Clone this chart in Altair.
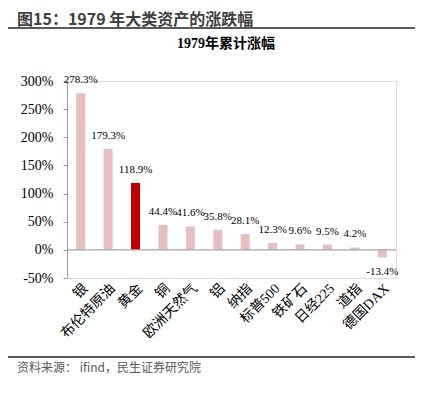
import altair as alt
import pandas as pd

categories = ["银", "布伦特原油", "黄金", "铜", "欧洲天然气", "铝", "纳指", "标普500", "铁矿石", "日经225", "道指", "德国DAX"]
values = [278.3, 179.3, 118.9, 44.4, 41.6, 35.8, 28.1, 12.3, 9.6, 9.5, 4.2, -13.4]
y_ticks = [-50, 0, 50, 100, 150, 200, 250, 300]
header_text = "图15：1979 年大类资产的涨跌幅"
chart_title = "1979年累计涨幅"
source_text = "资料来源：  ifind，民生证券研究院"
highlight = "黄金"

df = pd.DataFrame({"cat": categories, "val": values})
df["lab"] = [f"{v:.1f}%" for v in values]

SERIF = "Liberation Serif, Noto Sans CJK SC"
SANS = "Noto Sans CJK SC"
W, H = 329, 197

xaxis = alt.Axis(labelAngle=-45, domain=False, ticks=False, labelPadding=3, grid=False,
                 labelFont=SERIF, labelFontSize=14, labelColor="#000000")
yaxis = alt.Axis(values=y_ticks, labelExpr="datum.value + '%'", grid=False,
                 domain=True, domainColor="#999999", domainWidth=1,
                 tickColor="#999999", tickSize=4, labelOverlap=False,
                 labelPadding=10, labelFont=SERIF, labelFontSize=14,
                 labelColor="#000000")
xscale = alt.Scale(paddingInner=0.67, paddingOuter=0.335)
yscale = alt.Scale(domain=[-50, 300], nice=False, zero=False)


def X():
    return alt.X("cat:N", sort=categories, title=None, scale=xscale, axis=xaxis)


def Y(field="val:Q"):
    return alt.Y(field, title=None, scale=yscale, axis=yaxis)


base = alt.Chart(df)
bars = base.mark_bar().encode(
    x=X(), y=Y(),
    color=alt.condition(alt.datum.cat == highlight, alt.value("#C00000"), alt.value("#E6BFBF")),
)
zero = alt.Chart(alt.InlineData(values=[{"z": 0}])).mark_rule(
    color="#A6A6A6", strokeWidth=1.2
).encode(x=alt.value(0), x2=alt.value(W), y=Y("z:Q"), y2=alt.Y2("z:Q"))
pos = base.transform_filter("datum.val >= 0").mark_text(
    font=SERIF, fontSize=11, baseline="alphabetic", dy=-10, color="#000000"
).encode(x=X(), y=Y(), text="lab:N")
neg = base.transform_filter("datum.val < 0").mark_text(
    font=SERIF, fontSize=11, baseline="alphabetic", dy=18, color="#000000"
).encode(x=X(), y=Y(), text="lab:N")

one = alt.InlineData(values=[{"a": 1}])
header = alt.Chart(one).mark_text(
    font=SANS, fontSize=16, fontWeight="bold", align="left", baseline="middle", color="#404040"
).encode(x=alt.value(-50), y=alt.value(-61), text=alt.value(header_text))
hline = alt.Chart(one).mark_rule(color="#595959", strokeWidth=2).encode(
    x=alt.value(-59), x2=alt.value(348), y=alt.value(-53), y2=alt.value(-53))
title = alt.Chart(one).mark_text(
    font=SERIF, fontSize=14, fontWeight="bold", align="center", baseline="middle", color="#000000"
).encode(x=alt.value(159), y=alt.value(-37), text=alt.value(chart_title))
fline = alt.Chart(one).mark_rule(color="#595959", strokeWidth=2).encode(
    x=alt.value(-59), x2=alt.value(348), y=alt.value(276), y2=alt.value(276))
footer = alt.Chart(one).mark_text(
    font=SANS, fontSize=12, align="left", baseline="middle", color="#595959"
).encode(x=alt.value(-50), y=alt.value(287), text=alt.value(source_text))

chart = alt.layer(bars, zero, pos, neg, header, hline, title, fline, footer).properties(
    width=W, height=H,
    autosize=alt.AutoSizeParams(type="none"),
    padding={"left": 59, "top": 73, "right": 25, "bottom": 100},
).configure_axis(grid=False).configure_view(strokeWidth=0).configure(background="#ffffff")

chart.save("out.html", embed_options={"renderer": "svg", "actions": False})
